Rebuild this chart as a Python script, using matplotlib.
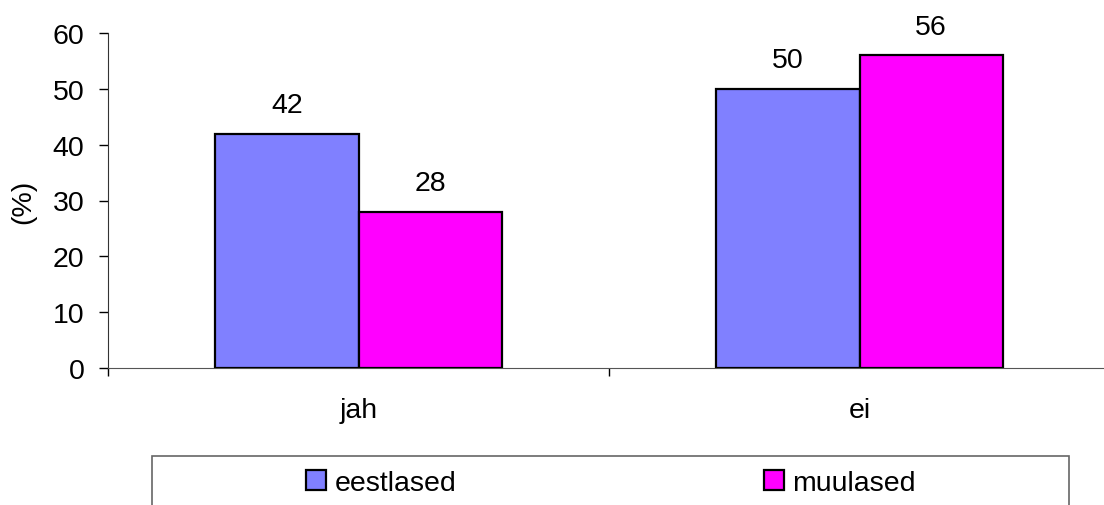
import matplotlib
matplotlib.use("Agg")
import matplotlib.pyplot as plt
from matplotlib.patches import Rectangle, Patch
import numpy as np

categories = ["jah", "ei"]
series_names = ["eestlased", "muulased"]
eestlased = [42, 50]
muulased = [28, 56]
y_ticks = [0, 10, 20, 30, 40, 50, 60]

plt.rcParams['font.family'] = ['Liberation Sans', 'DejaVu Sans']
fs = 20.5
colors = ["#8080FF", "#FF00FF"]

W, H = 1104, 506
fig = plt.figure(figsize=(W / 100, H / 100), dpi=100)
ax = fig.add_axes([108 / W, 1 - 369 / H, 1002 / W, 335 / H])

x = np.arange(len(categories))
bw = 0.286
for i, (vals, col) in enumerate(zip([eestlased, muulased], colors)):
    pos = x + (i - 0.5) * bw
    ax.bar(pos, vals, width=bw, color=col, edgecolor="black", linewidth=1.6, zorder=3)
    for px, v in zip(pos, vals):
        ax.annotate(str(v), (px, v), xytext=(0, 15.5), textcoords="offset points",
                    ha="center", va="baseline", fontsize=fs)

ax.set_xlim(-0.5, 1.5)
ax.set_ylim(0, 60)
ax.set_yticks(y_ticks)
ax.tick_params(axis="y", labelsize=fs, length=6.5, width=1, pad=10.5, direction="out")
ax.set_ylabel("(%)", fontsize=fs, labelpad=12)

ax.set_xticks([-0.5, 0.5, 1.5])
ax.set_xticklabels([])
ax.set_xticks(x, minor=True)
ax.set_xticklabels(categories, minor=True, fontsize=fs)
ax.tick_params(axis="x", which="major", length=6, width=1, direction="out")
ax.tick_params(axis="x", which="minor", length=0, pad=21)

for s in ["top", "right"]:
    ax.spines[s].set_visible(False)
ax.spines["left"].set_color("#333333")
ax.spines["bottom"].set_color("#555555")

# legend frame
fig.patches.append(Rectangle((152 / W, -0.05), (1069 - 152) / W, 0.05 + (506 - 457) / H,
                             transform=fig.transFigure, fill=False, edgecolor="#666666",
                             linewidth=1.2))
centers = [381 / W, 840 / W]
for name, col, cx in zip(series_names, colors, centers):
    fig.legend(handles=[Patch(facecolor=col, edgecolor="black", linewidth=1.6, label=name)],
               loc="center", bbox_to_anchor=(cx, 1 - 484 / H), frameon=False, fontsize=fs,
               handlelength=0.7, handleheight=0.7, handletextpad=0.3, borderpad=0)

fig.savefig("out.png", dpi=100)
